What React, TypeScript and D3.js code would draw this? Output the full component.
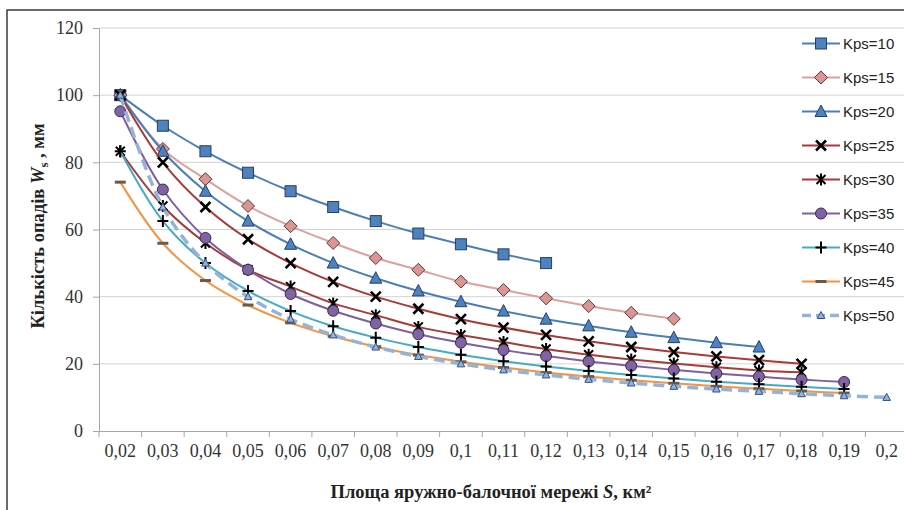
import { useEffect, useRef } from "react";
import * as d3 from "d3";

// category axis: area of the gully network S, km²
const categories = ["0,02", "0,03", "0,04", "0,05", "0,06", "0,07", "0,08", "0,09", "0,1", "0,11",
  "0,12", "0,13", "0,14", "0,15", "0,16", "0,17", "0,18", "0,19", "0,2"];

const yTicks = [0, 20, 40, 60, 80, 100, 120];

// precipitation Ws, mm — every series starts at S = 0,02
const kps10 = [100, 90.9, 83.3, 76.9, 71.4, 66.7, 62.5, 58.8, 55.6, 52.6, 50];
const kps15 = [100, 84, 75, 67, 61, 56, 51.5, 48, 44.5, 42, 39.5, 37.2, 35.2, 33.4];
const kps20 = [100, 83.3, 71.4, 62.5, 55.6, 50, 45.5, 41.7, 38.5, 35.7, 33.3, 31.3, 29.4, 27.8, 26.3, 25];
const kps25 = [100, 80, 66.7, 57.1, 50, 44.4, 40, 36.4, 33.3, 30.8, 28.6, 26.7, 25, 23.5, 22.2, 21.1, 20];
const kps30 = [83.3, 67, 56, 48, 43, 38, 34.5, 31, 28.6, 26.5, 24.4, 22.7, 21.3, 20.1, 19, 18, 17.5];
const kps35 = [95.2, 71.9, 57.5, 48, 40.8, 35.8, 32, 28.8, 26.3, 24.1, 22.3, 20.7, 19.4, 18.2, 17.1, 16.2, 15.3, 14.6];
const kps40 = [83.3, 62.5, 50, 41.7, 35.7, 31.2, 27.8, 25, 22.7, 20.8, 19.2, 17.9, 16.7, 15.6, 14.7, 13.9, 13.2, 12.5];
const kps45 = [74.1, 55.9, 44.8, 37.5, 32.2, 28.2, 25.1, 22.6, 20.6, 18.9, 17.4, 16.2, 15.1, 14.2, 13.3, 12.6, 11.9, 11.3];
const kps50 = [100, 66.7, 50, 40, 33.3, 28.6, 25, 22.2, 20, 18.2, 16.7, 15.4, 14.3, 13.3, 12.5, 11.8, 11.1, 10.5, 10];

const seriesNames = ["Kps=10", "Kps=15", "Kps=20", "Kps=25", "Kps=30", "Kps=35", "Kps=40", "Kps=45", "Kps=50"];
const seriesValues = [kps10, kps15, kps20, kps25, kps30, kps35, kps40, kps45, kps50];

type Style = { line: string; marker: string; fill: string; stroke: string; width: number; dash?: string };

const styles: Style[] = [
  { line: "#4A7EBB", marker: "square", fill: "#4F81BD", stroke: "#22406A", width: 2 },
  { line: "#DDA09E", marker: "diamond", fill: "#D99694", stroke: "#5E3836", width: 2 },
  { line: "#4A7EBB", marker: "triangle", fill: "#4F81BD", stroke: "#22406A", width: 2 },
  { line: "#A83A37", marker: "x", fill: "none", stroke: "#000", width: 2 },
  { line: "#A83A37", marker: "star", fill: "none", stroke: "#000", width: 2 },
  { line: "#7D60A0", marker: "circle", fill: "#8064A2", stroke: "#3A2A52", width: 2 },
  { line: "#46AAC5", marker: "plus", fill: "none", stroke: "#000", width: 2 },
  { line: "#F69240", marker: "dash", fill: "none", stroke: "#6B5A4C", width: 2 },
  { line: "#95B3D7", marker: "smalltri", fill: "#95B3D7", stroke: "#2F4F7F", width: 3.5, dash: "11 6" },
];

const FONT_SERIF = "'Liberation Serif', 'Times New Roman', serif";
const FONT_SANS = "'Liberation Sans', Arial, sans-serif";

function drawMarker(g: any, type: string, x: number, y: number, st: Style) {
  if (type === "square") {
    g.append("rect").attr("x", x - 5.5).attr("y", y - 5.5).attr("width", 11).attr("height", 11)
      .attr("fill", st.fill).attr("stroke", st.stroke).attr("stroke-width", 1);
  } else if (type === "diamond") {
    g.append("path").attr("d", `M${x},${y - 6.5}L${x + 6.5},${y}L${x},${y + 6.5}L${x - 6.5},${y}Z`)
      .attr("fill", st.fill).attr("stroke", st.stroke).attr("stroke-width", 1);
  } else if (type === "triangle") {
    g.append("path").attr("d", `M${x},${y - 6.5}L${x + 6},${y + 5}L${x - 6},${y + 5}Z`)
      .attr("fill", st.fill).attr("stroke", st.stroke).attr("stroke-width", 1);
  } else if (type === "smalltri") {
    g.append("path").attr("d", `M${x},${y - 4}L${x + 3.8},${y + 3}L${x - 3.8},${y + 3}Z`)
      .attr("fill", st.fill).attr("stroke", st.stroke).attr("stroke-width", 1);
  } else if (type === "circle") {
    g.append("circle").attr("cx", x).attr("cy", y).attr("r", 5.5)
      .attr("fill", st.fill).attr("stroke", st.stroke).attr("stroke-width", 1);
  } else if (type === "x") {
    g.append("path").attr("d", `M${x - 5},${y - 5}L${x + 5},${y + 5}M${x + 5},${y - 5}L${x - 5},${y + 5}`)
      .attr("stroke", st.stroke).attr("stroke-width", 2.6).attr("fill", "none");
  } else if (type === "star") {
    g.append("path").attr("d", `M${x - 4.5},${y - 4.5}L${x + 4.5},${y + 4.5}M${x + 4.5},${y - 4.5}L${x - 4.5},${y + 4.5}M${x},${y - 6}L${x},${y + 6}`)
      .attr("stroke", st.stroke).attr("stroke-width", 2).attr("fill", "none");
  } else if (type === "plus") {
    g.append("path").attr("d", `M${x - 5.5},${y}L${x + 5.5},${y}M${x},${y - 6}L${x},${y + 6}`)
      .attr("stroke", st.stroke).attr("stroke-width", 2).attr("fill", "none");
  } else if (type === "dash") {
    g.append("path").attr("d", `M${x - 5.5},${y}L${x + 5.5},${y}`)
      .attr("stroke", st.stroke).attr("stroke-width", 3).attr("fill", "none");
  }
}

export default function App() {
  const svgRef = useRef<SVGSVGElement | null>(null);

  useEffect(() => {
    const width = 904;
    const height = 510;
    const svg = d3.select(svgRef.current).attr("width", width).attr("height", height);
    svg.selectAll("*").remove();

    svg.append("rect").attr("width", width).attr("height", height).attr("fill", "#fff");

    const x = d3.scaleBand<string>().domain(categories).range([99, 908]).paddingInner(0).paddingOuter(0);
    const y = d3.scaleLinear().domain([0, 120]).range([431, 28]);
    const cx = (i: number) => (x(categories[i]) as number) + x.bandwidth() / 2;

    // horizontal gridlines
    svg.append("g").selectAll("line").data(yTicks.filter(t => t > 0)).join("line")
      .attr("x1", 99).attr("x2", 908)
      .attr("y1", d => y(d)).attr("y2", d => y(d))
      .attr("stroke", "#D4D4D4").attr("stroke-width", 1);

    // y axis
    const yAxis = svg.append("g").attr("transform", "translate(99,0)")
      .call(d3.axisLeft(y).tickValues(yTicks).tickSize(6).tickPadding(10));
    yAxis.select(".domain").attr("stroke", "#A6A6A6");
    yAxis.selectAll("line").attr("stroke", "#A6A6A6");
    yAxis.selectAll("text").attr("fill", "#333").style("font-family", FONT_SERIF).style("font-size", "18px");

    // x axis
    const xAxis = svg.append("g").attr("transform", "translate(0,431)")
      .call(d3.axisBottom(x).tickSize(0).tickPadding(13));
    xAxis.select(".domain").attr("stroke", "#A6A6A6");
    xAxis.selectAll("text").attr("fill", "#333").style("font-family", FONT_SERIF).style("font-size", "18px");
    const boundaries = categories.map(c => x(c) as number).concat([908]);
    svg.append("g").selectAll("line").data(boundaries).join("line")
      .attr("x1", d => d).attr("x2", d => d).attr("y1", 431).attr("y2", 437)
      .attr("stroke", "#A6A6A6");

    // series
    const lineGen = d3.line<number>()
      .x((_, i) => cx(i))
      .y(d => y(d))
      .curve(d3.curveCatmullRom.alpha(0.5));

    seriesValues.forEach((vals, si) => {
      const st = styles[si];
      const g = svg.append("g");
      g.append("path").datum(vals).attr("d", lineGen)
        .attr("fill", "none").attr("stroke", st.line).attr("stroke-width", st.width)
        .attr("stroke-dasharray", st.dash || null).attr("stroke-linejoin", "round");
      vals.forEach((v, i) => drawMarker(g, st.marker, cx(i), y(v), st));
    });

    // legend
    const lg = svg.append("g");
    seriesNames.forEach((name, si) => {
      const st = styles[si];
      const ly = 43.5 + si * 34;
      lg.append("line").attr("x1", 802).attr("x2", 840).attr("y1", ly).attr("y2", ly)
        .attr("stroke", st.line).attr("stroke-width", st.width).attr("stroke-dasharray", st.dash ? "9 5" : null);
      drawMarker(lg, st.marker, 821, ly, st);
      lg.append("text").attr("x", 843).attr("y", ly).attr("dy", "0.35em")
        .style("font-family", FONT_SANS).style("font-size", "15px").attr("fill", "#222")
        .text(name);
    });

    // axis titles
    const yt = svg.append("text")
      .attr("transform", "translate(44,226) rotate(-90)")
      .attr("text-anchor", "middle")
      .style("font-family", FONT_SERIF).style("font-size", "18.5px").style("font-weight", "bold")
      .attr("fill", "#222");
    yt.append("tspan").text("Кількість опадів ");
    yt.append("tspan").style("font-style", "italic").text("W");
    yt.append("tspan").attr("dy", 4).style("font-size", "13px").text("s");
    yt.append("tspan").attr("dy", -4).text(" , мм");

    const xt = svg.append("text")
      .attr("x", 491).attr("y", 498)
      .attr("text-anchor", "middle")
      .style("font-family", FONT_SERIF).style("font-size", "18.5px").style("font-weight", "bold")
      .attr("fill", "#222");
    xt.append("tspan").text("Площа яружно-балочної мережі ");
    xt.append("tspan").style("font-style", "italic").text("S");
    xt.append("tspan").text(", км²");

    // outer frame (right and bottom edges fall outside the picture)
    svg.append("rect").attr("x", 7).attr("y", 10).attr("width", 1000).attr("height", 600)
      .attr("fill", "none").attr("stroke", "#3A3A3A").attr("stroke-width", 1.5);
  }, []);

  return (
    <div style={{ position: "absolute", left: 0, top: 0 }}>
      <svg ref={svgRef} style={{ display: "block" }} />
    </div>
  );
}
